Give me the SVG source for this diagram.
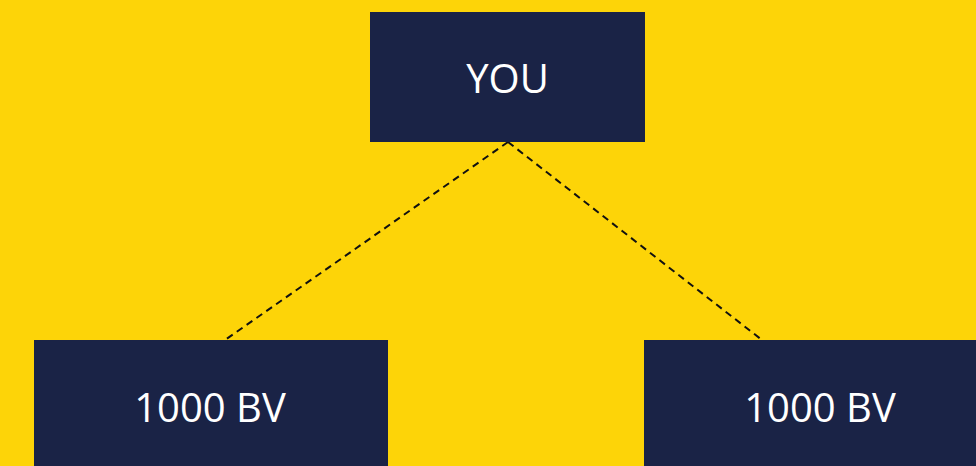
<svg xmlns="http://www.w3.org/2000/svg" width="976" height="466" viewBox="0 0 976 466">
<style>
.box{fill:#1A2346}
.lbl{fill:#FFFFFF;font-family:"Open Sans","Liberation Sans",sans-serif;font-size:40px;text-anchor:middle}
.conn{stroke:#111111;stroke-width:2;stroke-dasharray:7,5;fill:none}
</style>
<rect width="976" height="466" fill="#FDD408"/>
<g id="connectors">
<line class="conn" x1="508" y1="142" x2="225" y2="340"/>
<line class="conn" x1="508" y1="142" x2="762" y2="340"/>
</g>
<g id="you">
<rect class="box" x="370" y="12" width="275" height="130"/>
<text class="lbl" x="507.5" y="93">YOU</text>
</g>
<g id="left">
<rect class="box" x="34" y="340" width="354" height="126"/>
<text class="lbl" x="210" y="422">1000 BV</text>
</g>
<g id="right">
<rect class="box" x="644" y="340" width="332" height="126"/>
<text class="lbl" x="820" y="422">1000 BV</text>
</g>
</svg>
